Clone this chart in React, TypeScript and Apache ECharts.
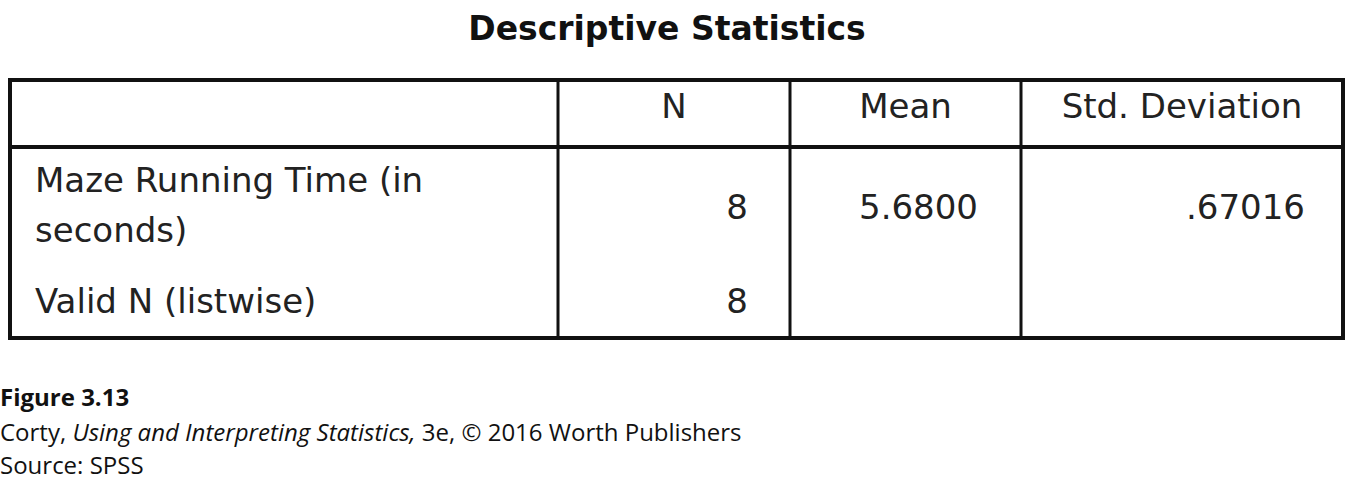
import { useEffect, useRef } from "react";
import * as echarts from "echarts";

const title = "Descriptive Statistics";
const headers = ["", "N", "Mean", "Std. Deviation"];
const rowLabels = [["Maze Running Time (in", "seconds)"], ["Valid N (listwise)"]];
const nValues = ["8", "8"];
const meanValues = ["5.6800", ""];
const sdValues = [".67016", ""];
const captions = ["Figure 3.13", "Corty, {i|Using and Interpreting Statistics,} 3e, © 2016 Worth Publishers", "Source: SPSS"];

const colX = [10, 558, 790, 1021, 1343];
const font = "'DejaVu Sans', Arial, sans-serif";
const ink = "#222";

export default function App() {
  const chartRef = useRef<HTMLDivElement>(null);

  useEffect(() => {
    document.body.style.margin = "0";
    if (!chartRef.current) return;
    const chart = echarts.init(chartRef.current, null, { renderer: "svg" });

    const txt = (text: string, x: number, y: number, align = "left", extra: any = {}) => ({
      type: "text",
      x,
      y,
      style: { text, x: 0, y: 0, fill: ink, font: `34px ${font}`, textAlign: align, textVerticalAlign: "middle", ...extra },
    });

    const els: any[] = [];
    els.push(txt(title, 667, 28, "center", { font: `bold 33px ${font}`, fill: "#111" }));
    // table frame
    els.push({ type: "rect", shape: { x: 10, y: 80, width: 1333, height: 258 }, style: { fill: "#fff", stroke: "#111", lineWidth: 4 } });
    els.push({ type: "line", shape: { x1: 10, y1: 147, x2: 1343, y2: 147 }, style: { stroke: "#111", lineWidth: 4 } });
    for (let i = 1; i < colX.length - 1; i++) {
      els.push({ type: "line", shape: { x1: colX[i], y1: 80, x2: colX[i], y2: 338 }, style: { stroke: "#111", lineWidth: 3 } });
    }
    headers.forEach((h, i) => {
      if (h) els.push(txt(h, (colX[i] + colX[i + 1]) / 2, 106, "center"));
    });
    const rowY = [207, 301];
    rowLabels.forEach((lines, r) => {
      if (lines.length === 2) {
        els.push(txt(lines[0], 35, 180));
        els.push(txt(lines[1], 35, 230));
      } else {
        els.push(txt(lines[0], 35, rowY[r]));
      }
      els.push(txt(nValues[r], 748, rowY[r], "right"));
      if (meanValues[r]) els.push(txt(meanValues[r], 978, rowY[r], "right"));
      if (sdValues[r]) els.push(txt(sdValues[r], 1305, rowY[r], "right"));
    });
    // captions
    const capFont = `24px "Open Sans", Arial, sans-serif`;
    els.push(txt(captions[0], 0, 396, "left", { font: `bold 24px "Open Sans", Arial, sans-serif`, fill: "#111" }));
    els.push(txt(captions[1], 0, 431, "left", {
      font: capFont, fill: "#111",
      rich: { i: { fontStyle: "italic", fontSize: 24, fontFamily: "Open Sans", fill: "#111" } },
    }));
    els.push(txt(captions[2], 0, 464, "left", { font: capFont, fill: "#111" }));

    chart.setOption({ animation: false, backgroundColor: "#fff", graphic: els });
    return () => chart.dispose();
  }, []);

  return <div ref={chartRef} style={{ width: 1350, height: 481 }} />;
}
